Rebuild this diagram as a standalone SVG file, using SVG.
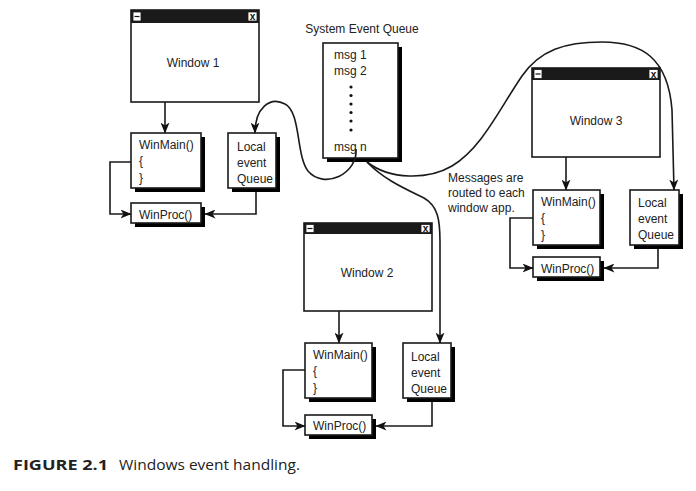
<svg xmlns="http://www.w3.org/2000/svg" width="696" height="491" viewBox="0 0 696 491">
<defs>
<marker id="ah" viewBox="0 0 11 9" refX="10.5" refY="4.5" markerWidth="11" markerHeight="9" markerUnits="userSpaceOnUse" orient="auto">
<path d="M0,0 L11,4.5 L0,9 L3,4.5 z" fill="#111"/>
</marker>
</defs>
<style>
text{font-family:"Liberation Sans",Arial,sans-serif;font-size:12px;fill:#222}
.win{fill:#fff;stroke:#1a1a1a;stroke-width:1.6}
.bar{fill:#1a1a1a}
.btn{fill:#fff;stroke:#1a1a1a;stroke-width:0.8}
.sh{fill:#000;stroke:none}
.box{fill:#fff;stroke:#1a1a1a;stroke-width:1.6}
.ln{fill:none;stroke:#1a1a1a;stroke-width:1.6}
.xb{font-size:10px;font-weight:bold;fill:#111}
.cap{font-family:"Open Sans","Noto Sans",sans-serif;font-size:15px;fill:#222}
</style>

<g id="window1">
<rect class="win" x="131" y="10" width="128" height="92"/>
<rect class="bar" x="131" y="10" width="128" height="13"/>
<rect class="btn" x="133" y="12" width="8" height="9"/>
<line x1="134.5" y1="16.5" x2="139.5" y2="16.5" stroke="#111" stroke-width="1.2"/>
<rect class="btn" x="248" y="12" width="9" height="9"/>
<text class="xb" x="252.5" y="20" text-anchor="middle">x</text>
<text x="193" y="67" text-anchor="middle">Window 1</text>
</g>

<g id="window2">
<rect class="win" x="304" y="223" width="128" height="88"/>
<rect class="bar" x="304" y="223" width="128" height="11"/>
<rect class="btn" x="306" y="224.5" width="8" height="8"/>
<line x1="307.5" y1="228.5" x2="312.5" y2="228.5" stroke="#111" stroke-width="1.2"/>
<rect class="btn" x="421" y="224.5" width="9" height="8"/>
<text class="xb" x="425.5" y="232" text-anchor="middle">x</text>
<text x="367" y="277" text-anchor="middle">Window 2</text>
</g>

<g id="window3">
<rect class="win" x="532" y="68" width="128" height="89"/>
<rect class="bar" x="532" y="68" width="128" height="12"/>
<rect class="btn" x="534" y="69.5" width="8" height="9"/>
<line x1="535.5" y1="74" x2="540.5" y2="74" stroke="#111" stroke-width="1.2"/>
<rect class="btn" x="649" y="69.5" width="9" height="9"/>
<text class="xb" x="653.5" y="77.5" text-anchor="middle">x</text>
<text x="596" y="125" text-anchor="middle">Window 3</text>
</g>

<g id="system-queue">
<text x="362" y="33" text-anchor="middle">System Event Queue</text>
<rect class="sh" x="327" y="47" width="75" height="115" fill="#000"/>
<rect class="box" x="323" y="43" width="75" height="115" stroke-width="2"/>
<text x="334" y="59">msg 1</text>
<text x="334" y="75">msg 2</text>
<g fill="#111">
<circle cx="351" cy="87" r="1.6"/>
<circle cx="351" cy="95.5" r="1.6"/>
<circle cx="351" cy="104" r="1.6"/>
<circle cx="351" cy="112.5" r="1.6"/>
<circle cx="351" cy="121" r="1.6"/>
<circle cx="351" cy="130" r="1.6"/>
</g>
<text x="334" y="151">msg n</text>
</g>

<g id="winmain1">
<rect class="sh" x="135" y="137" width="70" height="55" fill="#000"/>
<rect class="box" x="131" y="133" width="70" height="55"/>
<text x="139" y="149">WinMain()</text>
<text x="139" y="165">{</text>
<text x="139" y="182">}</text>
</g>
<g id="localqueue1">
<rect class="sh" x="232" y="137" width="48" height="55" fill="#000"/>
<rect class="box" x="228" y="133" width="48" height="55"/>
<text x="237" y="151">Local</text>
<text x="237" y="167">event</text>
<text x="237" y="183">Queue</text>
</g>
<g id="winproc1">
<rect class="sh" x="135" y="207" width="70" height="20" fill="#000"/>
<rect class="box" x="131" y="203" width="70" height="20"/>
<text x="139" y="219">WinProc()</text>
</g>

<g id="winmain2">
<rect class="sh" x="309" y="347" width="67" height="55" fill="#000"/>
<rect class="box" x="305" y="343" width="67" height="55"/>
<text x="313" y="359">WinMain()</text>
<text x="313" y="375">{</text>
<text x="313" y="392">}</text>
</g>
<g id="localqueue2">
<rect class="sh" x="407" y="347" width="48" height="55" fill="#000"/>
<rect class="box" x="403" y="343" width="48" height="55"/>
<text x="411" y="361">Local</text>
<text x="411" y="377">event</text>
<text x="411" y="393">Queue</text>
</g>
<g id="winproc2">
<rect class="sh" x="309" y="419" width="67" height="20" fill="#000"/>
<rect class="box" x="305" y="415" width="67" height="20"/>
<text x="313" y="430">WinProc()</text>
</g>

<g id="winmain3">
<rect class="sh" x="537" y="194" width="67" height="55" fill="#000"/>
<rect class="box" x="533" y="190" width="67" height="55"/>
<text x="541" y="206">WinMain()</text>
<text x="541" y="222">{</text>
<text x="541" y="239">}</text>
</g>
<g id="localqueue3">
<rect class="sh" x="634" y="194" width="49" height="55" fill="#000"/>
<rect class="box" x="630" y="190" width="49" height="55"/>
<text x="638" y="207">Local</text>
<text x="638" y="223">event</text>
<text x="638" y="239">Queue</text>
</g>
<g id="winproc3">
<rect class="sh" x="537" y="261" width="67" height="20" fill="#000"/>
<rect class="box" x="533" y="257" width="67" height="20"/>
<text x="541" y="273">WinProc()</text>
</g>

<g id="note">
<text x="448" y="182">Messages are</text>
<text x="448" y="197">routed to each</text>
<text x="448" y="212">window app.</text>
</g>

<g id="connectors">
<line class="ln" x1="165" y1="102" x2="165" y2="133" marker-end="url(#ah)"/>
<line class="ln" x1="339" y1="311" x2="339" y2="343" marker-end="url(#ah)"/>
<line class="ln" x1="566" y1="157" x2="566" y2="190" marker-end="url(#ah)"/>
<path class="ln" d="M131 162 H110 V214 H131" marker-end="url(#ah)"/>
<path class="ln" d="M256 192 V214 H205" marker-end="url(#ah)"/>
<path class="ln" d="M305 370 H283 V426 H305" marker-end="url(#ah)"/>
<path class="ln" d="M432 402 V426 H376" marker-end="url(#ah)"/>
<path class="ln" d="M533 218 H510 V268 H533" marker-end="url(#ah)"/>
<path class="ln" d="M658 249 V268 H604" marker-end="url(#ah)"/>
<path class="ln" d="M356 149 C358 174, 324 190, 308 171 C296 156, 301 112, 285 104 C270 96, 255 108, 255 133" marker-end="url(#ah)"/>
<path class="ln" d="M367 162 C390 180, 428 180, 452 166 C482 148, 500 108, 522 76 C540 50, 565 42, 602 42 C642 42, 668 58, 672 110 L674 190" marker-end="url(#ah)"/>
<path class="ln" d="M367 162 C384 180, 408 190, 424 198 C438 206, 440 220, 440 242 L440 343" marker-end="url(#ah)"/>
</g>

<g id="caption">
<text class="cap" x="13" y="470" font-weight="bold" textLength="95" lengthAdjust="spacingAndGlyphs">FIGURE 2.1</text>
<text class="cap" x="119" y="470" textLength="181" lengthAdjust="spacingAndGlyphs">Windows event handling.</text>
</g>
</svg>
